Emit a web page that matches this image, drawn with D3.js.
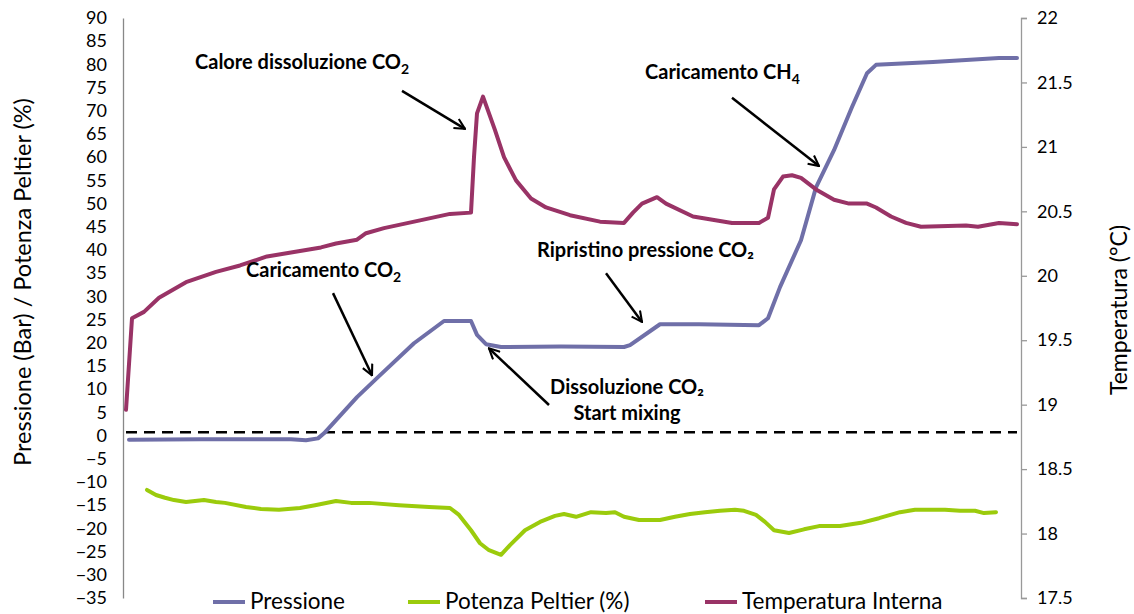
<!DOCTYPE html>
<html>
<head>
<meta charset="utf-8">
<script src="https://cdnjs.cloudflare.com/ajax/libs/d3/7.8.5/d3.min.js"></script>
<style>
  body { margin: 0; background: #fff; }
  svg { display: block; font-family: Lato, "Liberation Sans", sans-serif; }
</style>
</head>
<body>
<div id="chart"></div>
<script>
// sample index (time) and values
var pressione = [
  [2, -0.9], [26, -0.8], [56, -0.8], [61, -1.0], [65, -0.6], [67, 0.5], [78, 8.3],
  [85, 12.6], [97, 19.9], [107, 24.7], [116, 24.7], [118, 21.7], [121, 19.7],
  [126, 19.1], [146, 19.2], [167, 19.1], [169, 19.5], [179, 24.0], [192, 24.0],
  [212, 23.8], [215, 25.3], [219, 32.0], [226, 42.1], [231, 53.5], [237, 61.5],
  [243, 70.8], [248, 78.1], [251, 79.9], [270, 80.5], [292, 81.4], [298, 81.4]
];
var peltier = [
  [8, -11.7], [11, -12.8], [14, -13.4], [17, -13.9], [21, -14.3], [24, -14.1],
  [27, -13.9], [31, -14.3], [34, -14.5], [41, -15.4], [46, -15.8], [52, -16.0],
  [59, -15.6], [64, -15.0], [71, -14.1], [76, -14.5], [82, -14.5], [92, -15.0],
  [102, -15.4], [109, -15.6], [112, -17.1], [116, -20.4], [119, -23.2], [122, -24.7],
  [126, -25.7], [129, -23.6], [134, -20.4], [139, -18.6], [144, -17.3], [147, -16.9],
  [151, -17.5], [156, -16.5], [161, -16.7], [164, -16.5], [167, -17.5], [172, -18.2],
  [179, -18.2], [184, -17.5], [189, -16.9], [194, -16.5], [199, -16.2], [204, -16.0],
  [207, -16.2], [211, -17.1], [214, -18.6], [217, -20.4], [222, -21.0], [227, -20.2],
  [232, -19.5], [239, -19.5], [246, -18.8], [252, -17.8], [259, -16.5], [264, -16.0],
  [269, -16.0], [274, -16.0], [279, -16.2], [284, -16.2], [287, -16.7], [291, -16.5]
];
var temperatura = [
  [1, 18.96], [3, 19.67], [7, 19.72], [12, 19.83], [21, 19.95], [31, 20.03],
  [39, 20.08], [48, 20.15], [56, 20.18], [66, 20.22], [71, 20.25], [78, 20.28],
  [81, 20.33], [87, 20.37], [99, 20.43], [109, 20.48], [116, 20.49], [117, 20.92],
  [118, 21.26], [120, 21.39], [124, 21.13], [127, 20.92], [131, 20.74], [136, 20.60],
  [141, 20.53], [149, 20.47], [159, 20.42], [167, 20.41], [170, 20.49], [173, 20.56],
  [178, 20.61], [181, 20.56], [190, 20.46], [203, 20.41], [212, 20.41], [215, 20.45],
  [217, 20.67], [220, 20.77], [223, 20.78], [226, 20.76], [231, 20.67], [237, 20.59],
  [242, 20.56], [248, 20.56], [251, 20.53], [256, 20.46], [261, 20.41], [266, 20.38],
  [281, 20.39], [285, 20.38], [292, 20.41], [298, 20.40]
];
var zeroLine = [[1, 0.7], [298, 0.7]];
var leftTicks = d3.range(-35, 91, 5);
var rightTicks = d3.range(17.5, 22.01, 0.5);
var seriesNames = ["Pressione", "Potenza Peltier (%)", "Temperatura Interna"];
var seriesColors = ["#6F6FA8", "#9BCB0C", "#993366"];

// annotations: text anchor and arrow (from -> to) in data units (t, left axis)
var notes = [
  {lines: [["Calore dissoluzione CO", "2"]], x: 24, y: 79.0, from: [93, 74.3], to: [114, 66.1]},
  {lines: [["Caricamento CH", "4"]], x: 174, y: 76.9, from: [203, 72.8], to: [232, 58.1]},
  {lines: [["Caricamento CO", "2"]], x: 41, y: 34.2, from: [70, 30.7], to: [83, 13.0]},
  {lines: [["Ripristino pressione CO₂"]], x: 138, y: 38.5, from: [161, 35.0], to: [173, 24.5]},
  {lines: [["Dissoluzione CO₂"], ["Start mixing"]], x: 168, y: 9.0, from: [142, 6.6], to: [122, 18.8]}
];

var W = 1134, H = 614;
var svg = d3.select("#chart").append("svg").attr("width", W).attr("height", H);

var x = d3.scaleLinear().domain([0, 299]).range([123, 1020]);
var yL = d3.scaleLinear().domain([-35, 90]).range([598, 18]);
var yR = d3.scaleLinear().domain([17.5, 22]).range([598, 18]);

// left axis
var gL = svg.append("g").attr("transform", "translate(123,0)")
  .call(d3.axisLeft(yL).tickValues(leftTicks).tickSize(0).tickPadding(16));
gL.select(".domain").attr("stroke", "#888").attr("stroke-width", 1.3);
gL.selectAll("text").attr("font-size", 18).attr("fill", "#000")
  .attr("font-family", "Lato, sans-serif");

// right axis
var gR = svg.append("g").attr("transform", "translate(1021,0)")
  .call(d3.axisRight(yR).tickValues(rightTicks).tickSize(6).tickSizeOuter(6).tickPadding(10)
    .tickFormat(d3.format("~g")));
gR.select(".domain").attr("stroke", "#999").attr("stroke-width", 1.3);
gR.selectAll(".tick line").attr("stroke", "#999").attr("stroke-width", 1.3);
gR.selectAll("text").attr("font-size", 18).attr("fill", "#000")
  .attr("font-family", "Lato, sans-serif");

// axis titles
svg.append("text").attr("transform", "translate(31,282) rotate(-90)")
  .attr("text-anchor", "middle").attr("font-size", 23.5).text("Pressione (Bar) / Potenza Peltier (%)");
svg.append("text").attr("transform", "translate(1127,310) rotate(-90)")
  .attr("text-anchor", "middle").attr("font-size", 23).text("Temperatura (°C)");

// dashed zero line
svg.append("path").datum(zeroLine)
  .attr("d", d3.line().x(d => x(d[0])).y(d => yL(d[1])))
  .attr("fill", "none").attr("stroke", "#000").attr("stroke-width", 2.5)
  .attr("stroke-dasharray", "11,7");

// series
var lineL = d3.line().x(d => x(d[0])).y(d => yL(d[1]));
var lineR = d3.line().x(d => x(d[0])).y(d => yR(d[1]));
[[pressione, lineL, 0], [peltier, lineL, 1], [temperatura, lineR, 2]].forEach(function (s) {
  svg.append("path").datum(s[0])
    .attr("d", s[1])
    .attr("fill", "none")
    .attr("stroke", seriesColors[s[2]])
    .attr("stroke-width", 4)
    .attr("stroke-linejoin", "round")
    .attr("stroke-linecap", "round");
});

// arrow marker
svg.append("defs").append("marker")
  .attr("id", "arr").attr("viewBox", "0 0 12 12").attr("refX", 11).attr("refY", 6)
  .attr("markerWidth", 5).attr("markerHeight", 5).attr("markerUnits", "strokeWidth")
  .attr("orient", "auto")
  .append("path").attr("d", "M1,1 L11,6 L1,11").attr("fill", "none")
  .attr("stroke", "#000").attr("stroke-width", 2);

// annotations
notes.forEach(function (n) {
  svg.append("line")
    .attr("x1", x(n.from[0])).attr("y1", yL(n.from[1]))
    .attr("x2", x(n.to[0])).attr("y2", yL(n.to[1]))
    .attr("stroke", "#000").attr("stroke-width", 2.5).attr("marker-end", "url(#arr)");
  n.lines.forEach(function (ln, i) {
    var t = svg.append("text")
      .attr("x", x(n.x)).attr("y", yL(n.y) + i * 26)
      .attr("font-size", 20).attr("font-weight", "bold")
      .attr("text-anchor", n.lines.length > 1 ? "middle" : "start");
    t.append("tspan").text(ln[0]);
    if (ln[1]) t.append("tspan").attr("font-size", 14).attr("dy", 5).text(ln[1]);
  });
});

// legend
var legX = [213, 408, 705];
seriesNames.forEach(function (name, i) {
  var g = svg.append("g").attr("transform", "translate(" + legX[i] + ",602)");
  g.append("line").attr("x1", 0).attr("x2", 32).attr("stroke", seriesColors[i]).attr("stroke-width", 4);
  g.append("text").attr("x", 37).attr("y", 7).attr("font-size", 22.5).text(name);
});
</script>
</body>
</html>
